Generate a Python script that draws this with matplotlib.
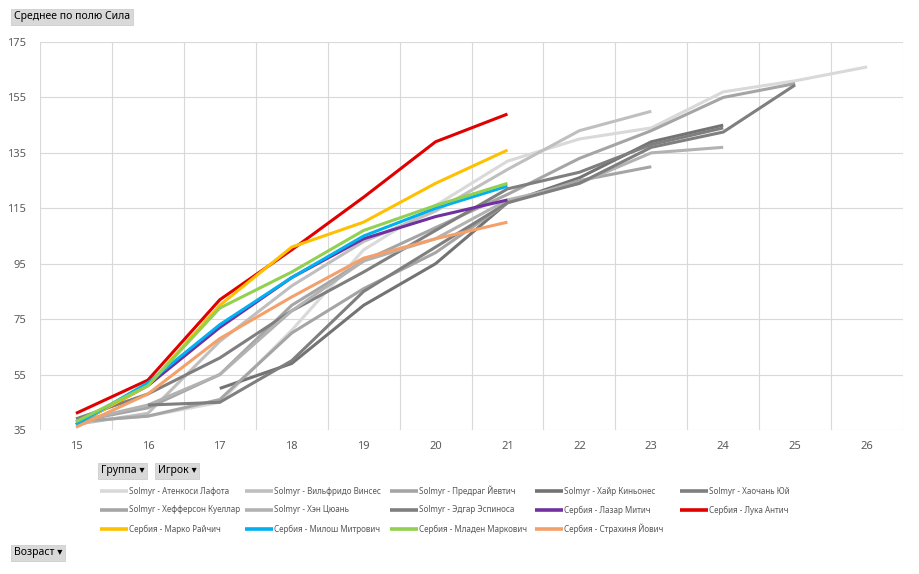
import numpy as np
import matplotlib
matplotlib.use("Agg")
import matplotlib.pyplot as plt
from matplotlib.lines import Line2D

plt.rcParams['font.family'] = ['Noto Sans', 'DejaVu Sans']

# ---------------------- data ----------------------
ages = [15, 16, 17, 18, 19, 20, 21, 22, 23, 24, 25, 26]
nan = np.nan

lafota = [38, 40, 45, 71, 100, 116, 132, 140, 144, 157, 161, 166]
vinses = [37, 41, 67, 87, 103, 114, 129, 143, 150, nan, nan, nan]
jevtic = [38, 43, 55, 80, 96, 108, 120, 133, 143, 155, 160, nan]
kinones = [nan, nan, 50, 59, 80, 95, 117, 126, 139, 145, nan, nan]
haochan = [39, 48, 61, 78, 92, 107, 122, 128, 138, 144, nan, nan]
kuellar = [38, 40, 46, 70, 86, 99, 117, 125, 130, nan, nan, nan]
tsyuan = [38, 44, 55, 78, 96, 104, 118, 124, 135, 137, nan, nan]
espinosa = [nan, 44, 45, 60, 85, 101, 117, 124, 137, 142.5, 159.5, nan]
mitic = [37, 51, 72, 90, 104, 112, 118, nan, nan, nan, nan, nan]
antic = [41, 53, 82, 100, 119, 139, 149, nan, nan, nan, nan, nan]
rajcic = [37, 51, 80, 101, 110, 124, 136, nan, nan, nan, nan, nan]
mitrovic = [37, 52, 73, 90, 105, 115, 123, nan, nan, nan, nan, nan]
markovic = [38, 51, 79, 92, 107, 116, 124, nan, nan, nan, nan, nan]
jovic = [36, 48, 68, 83, 97, 104, 110, nan, nan, nan, nan, nan]

series = [
    ("Solmyr - Атенкоси Лафота", lafota, "#d9d9d9"),
    ("Solmyr - Вильфридо Винсес", vinses, "#bfbfbf"),
    ("Solmyr - Предраг Йевтич", jevtic, "#a5a5a5"),
    ("Solmyr - Хайр Киньонес", kinones, "#737373"),
    ("Solmyr - Хаочань Юй", haochan, "#7f7f7f"),
    ("Solmyr - Хефферсон Куеллар", kuellar, "#a5a5a5"),
    ("Solmyr - Хэн Цюань", tsyuan, "#b2b2b2"),
    ("Solmyr - Эдгар Эспиноса", espinosa, "#7f7f7f"),
    ("Сербия - Лазар Митич", mitic, "#7030a0"),
    ("Сербия - Лука Антич", antic, "#e00000"),
    ("Сербия - Марко Райчич", rajcic, "#ffc000"),
    ("Сербия - Милош Митрович", mitrovic, "#00b0f0"),
    ("Сербия - Младен Маркович", markovic, "#92d050"),
    ("Сербия - Страхиня Йович", jovic, "#f4a06a"),
]

W, H = 919, 574

# ---------------------- plot ----------------------
fig = plt.figure(figsize=(W / 100, H / 100), dpi=100)
ax = fig.add_axes([40 / W, 144 / H, 863 / W, 388 / H])

for name, vals, col in series:
    ax.plot(ages, vals, color=col, lw=2.2, label=name, solid_capstyle='butt')

ax.set_xlim(14.5, 26.5)
ax.set_ylim(35, 175)
ax.set_yticks(range(35, 176, 20))
ax.set_xticks(ages)
ax.set_xticks(np.arange(14.5, 26.6, 1), minor=True)
ax.grid(True, which='minor', axis='x', color='#d9d9d9', lw=0.8)
ax.grid(True, which='major', axis='y', color='#d9d9d9', lw=0.8)
ax.set_axisbelow(True)
for s in ax.spines.values():
    s.set_visible(False)
ax.tick_params(which='both', length=0, labelsize=8, colors='#595959', pad=8)
ax.tick_params(axis='y', pad=10)

# legend, row by row, 5 equal columns
for i, (name, vals, col) in enumerate(series):
    r, c = divmod(i, 5)
    x0 = 100 + 145 * c
    y0 = 491 + 19 * r
    fig.add_artist(Line2D([x0 / W, (x0 + 28) / W], [1 - y0 / H, 1 - y0 / H],
                          color=col, lw=2.6, solid_capstyle='butt'))
    fig.text((x0 + 29) / W, 1 - y0 / H, name, fontsize=5.8, color='#595959',
             va='center', ha='left')

btn = dict(boxstyle='square,pad=0.25', facecolor='#d9d9d9', edgecolor='#c8c8c8', lw=0.5)
fig.text(14 / W, 1 - 17 / H, "Среднее по полю Сила", fontsize=7.5, va='center', ha='left', bbox=btn)
fig.text(101 / W, 1 - 471 / H, "Группа ▾", fontsize=7.5, va='center', ha='left', bbox=btn)
fig.text(158 / W, 1 - 471 / H, "Игрок ▾", fontsize=7.5, va='center', ha='left', bbox=btn)
fig.text(14 / W, 1 - 553 / H, "Возраст ▾", fontsize=7.5, va='center', ha='left', bbox=btn)

fig.savefig("out.png", dpi=100)
